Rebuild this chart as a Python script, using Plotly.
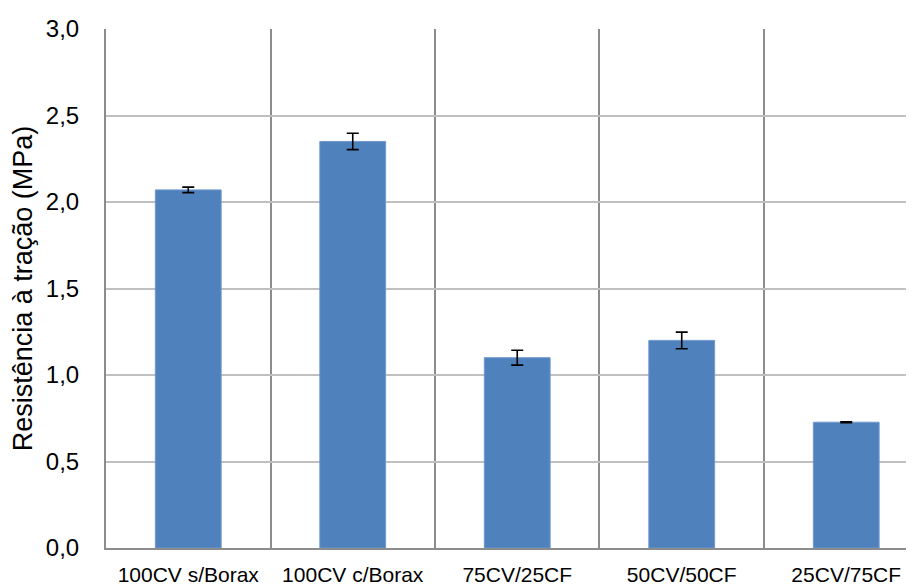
import plotly.graph_objects as go

categories = ["100CV s/Borax", "100CV c/Borax", "75CV/25CF", "50CV/50CF", "25CV/75CF"]
values = [2.07, 2.35, 1.10, 1.20, 0.727]
errors = [0.016, 0.047, 0.043, 0.048, 0.003]
y_ticks = [0.0, 0.5, 1.0, 1.5, 2.0, 2.5, 3.0]
y_tick_labels = ["0,0", "0,5", "1,0", "1,5", "2,0", "2,5", "3,0"]

fig = go.Figure()
fig.add_trace(go.Bar(
    x=categories,
    y=values,
    marker=dict(color="#4F81BD", line=dict(color="#6f98cc", width=1)),
    error_y=dict(type="data", array=errors, visible=True, color="black", thickness=1.6, width=6),
    width=0.4,
))

fig.update_layout(
    width=906, height=578,
    margin=dict(l=98, r=0, t=21, b=35),
    plot_bgcolor="white", paper_bgcolor="white",
    font=dict(family="Liberation Sans, Arial, sans-serif", color="black"),
    showlegend=False,
)
fig.update_xaxes(
    type="category",
    range=[-0.5, 4.412],
    tickson="boundaries",
    showgrid=True, gridcolor="#8c8c8c", gridwidth=1.5,
    showline=True, linecolor="#8c8c8c", linewidth=2,
    ticks="", tickfont=dict(size=21),
    ticklabelstandoff=7,
)
fig.update_yaxes(
    range=[0, 3.0],
    tickvals=y_ticks, ticktext=y_tick_labels,
    showgrid=True, gridcolor="#c0c0c0", gridwidth=1.5,
    showline=True, linecolor="#8c8c8c", linewidth=2,
    zeroline=False,
    ticks="", tickfont=dict(size=24),
    ticklabelstandoff=20,
    title=dict(text="Resistência à tração (MPa)", font=dict(size=27), standoff=12),
)

fig.write_html("out.html")
